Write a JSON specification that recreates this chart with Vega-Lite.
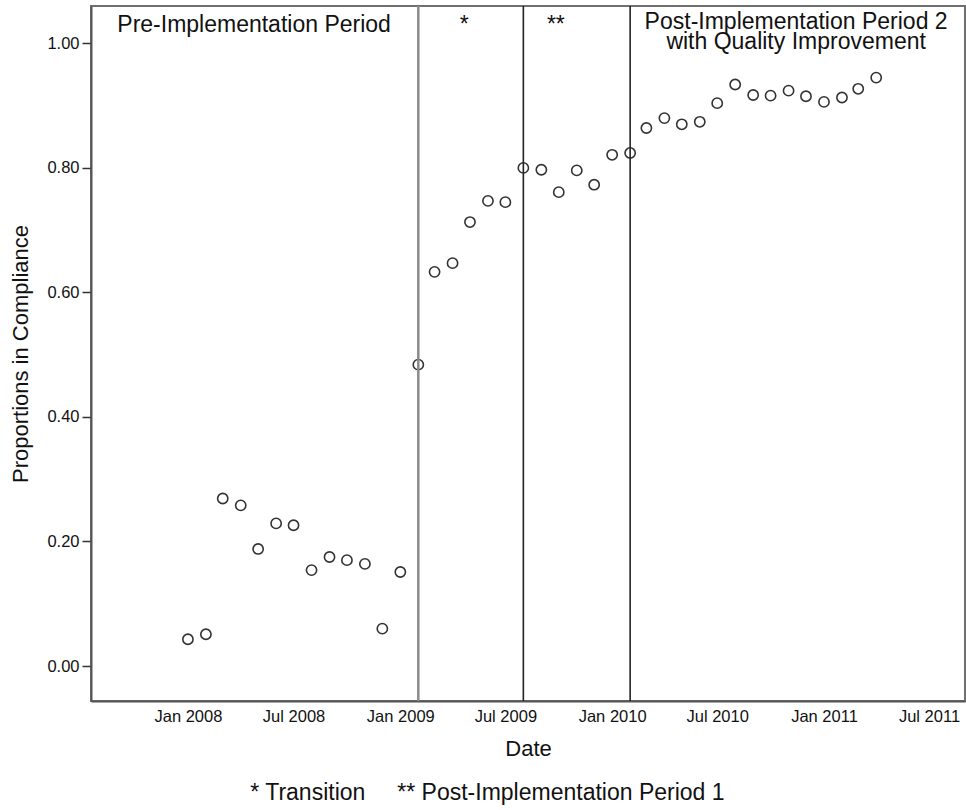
{
  "$schema": "https://vega.github.io/schema/vega-lite/v6.json",
  "width": 874,
  "height": 695,
  "autosize": {"type": "none"},
  "padding": {"left": 91, "top": 6, "right": 1, "bottom": 109},
  "background": "white",
  "config": {
    "font": "Liberation Sans",
    "view": {"stroke": "#707070", "strokeWidth": 2},
    "axisX": {
      "ticks": false,
      "grid": false,
      "domainColor": "#555",
      "domainWidth": 2,
      "labelFontSize": 16.5,
      "labelColor": "#111",
      "labelPadding": 7,
      "labelFlush": false,
      "labelOverlap": false,
      "titleFontSize": 22,
      "titleFontWeight": "normal",
      "titleColor": "#111",
      "titlePadding": 14
    },
    "axisY": {
      "grid": false,
      "domainColor": "#555",
      "domainWidth": 2,
      "tickColor": "#333",
      "tickWidth": 1.5,
      "tickSize": 9,
      "labelFontSize": 16.5,
      "labelColor": "#111",
      "labelPadding": 3,
      "titleFontSize": 22,
      "titleFontWeight": "normal",
      "titleColor": "#111",
      "titlePadding": 14
    }
  },
  "title": {
    "text": "* Transition\u00a0\u00a0\u00a0\u00a0\u00a0** Post-Implementation Period 1",
    "orient": "bottom",
    "anchor": "middle",
    "frame": "bounds",
    "fontSize": 23,
    "fontWeight": "normal",
    "color": "#111",
    "offset": 22
  },
  "datasets": {
    "obs": [
      {"date": "2008-01-01", "value": 0.043},
      {"date": "2008-02-01", "value": 0.051},
      {"date": "2008-03-01", "value": 0.269},
      {"date": "2008-04-01", "value": 0.258},
      {"date": "2008-05-01", "value": 0.188},
      {"date": "2008-06-01", "value": 0.229},
      {"date": "2008-07-01", "value": 0.226},
      {"date": "2008-08-01", "value": 0.154},
      {"date": "2008-09-01", "value": 0.175},
      {"date": "2008-10-01", "value": 0.170},
      {"date": "2008-11-01", "value": 0.164},
      {"date": "2008-12-01", "value": 0.060},
      {"date": "2009-01-01", "value": 0.151},
      {"date": "2009-02-01", "value": 0.484},
      {"date": "2009-03-01", "value": 0.633},
      {"date": "2009-04-01", "value": 0.647},
      {"date": "2009-05-01", "value": 0.713},
      {"date": "2009-06-01", "value": 0.747},
      {"date": "2009-07-01", "value": 0.745},
      {"date": "2009-08-01", "value": 0.800},
      {"date": "2009-09-01", "value": 0.797},
      {"date": "2009-10-01", "value": 0.761},
      {"date": "2009-11-01", "value": 0.796},
      {"date": "2009-12-01", "value": 0.773},
      {"date": "2010-01-01", "value": 0.821},
      {"date": "2010-02-01", "value": 0.824},
      {"date": "2010-03-01", "value": 0.864},
      {"date": "2010-04-01", "value": 0.880},
      {"date": "2010-05-01", "value": 0.870},
      {"date": "2010-06-01", "value": 0.874},
      {"date": "2010-07-01", "value": 0.904},
      {"date": "2010-08-01", "value": 0.934},
      {"date": "2010-09-01", "value": 0.917},
      {"date": "2010-10-01", "value": 0.916},
      {"date": "2010-11-01", "value": 0.924},
      {"date": "2010-12-01", "value": 0.915},
      {"date": "2011-01-01", "value": 0.906},
      {"date": "2011-02-01", "value": 0.913},
      {"date": "2011-03-01", "value": 0.927},
      {"date": "2011-04-01", "value": 0.945}
    ],
    "boundaries": [
      {"date": "2009-02-01", "boundary": "start of transition"},
      {"date": "2009-08-01", "boundary": "start of post-implementation period 1"},
      {"date": "2010-02-01", "boundary": "start of post-implementation period 2"}
    ],
    "periods": [
      {"date": "2008-04-24", "value": 1.018, "label": "Pre-Implementation Period"},
      {"date": "2009-04-21", "value": 1.018, "label": "*"},
      {"date": "2009-09-26", "value": 1.018, "label": "**"},
      {"date": "2010-11-14", "value": 1.023, "label": "Post-Implementation Period 2\nwith Quality Improvement"}
    ]
  },
  "encoding": {
    "x": {
      "field": "date", "type": "temporal", "title": "Date",
      "scale": {"type": "utc", "domain": [{"year": 2007, "month": 7, "date": 18, "utc": true}, {"year": 2011, "month": 9, "date": 1, "utc": true}]},
      "axis": {
        "values": [
          {"year": 2008, "month": 1, "date": 1, "utc": true},
          {"year": 2008, "month": 7, "date": 1, "utc": true},
          {"year": 2009, "month": 1, "date": 1, "utc": true},
          {"year": 2009, "month": 7, "date": 1, "utc": true},
          {"year": 2010, "month": 1, "date": 1, "utc": true},
          {"year": 2010, "month": 7, "date": 1, "utc": true},
          {"year": 2011, "month": 1, "date": 1, "utc": true},
          {"year": 2011, "month": 7, "date": 1, "utc": true}
        ],
        "labelExpr": "utcFormat(datum.value, '%b %Y')"
      }
    }
  },
  "layer": [
    {
      "data": {"name": "obs"},
      "mark": {"type": "point", "shape": "circle", "filled": false, "stroke": "#333", "strokeWidth": 1.6, "size": 105, "opacity": 1},
      "encoding": {
        "y": {
          "field": "value", "type": "quantitative", "title": "Proportions in Compliance",
          "scale": {"domain": [-0.0562, 1.06], "nice": false, "zero": false},
          "axis": {
            "values": [0, 0.2, 0.4, 0.6, 0.8, 1.0],
            "format": ".2f"
          }
        }
      }
    },
    {
      "data": {"name": "boundaries"},
      "transform": [{"filter": "datum.boundary == 'start of transition'"}],
      "mark": {"type": "rule", "color": "#8a8a8a", "strokeWidth": 2.5}
    },
    {
      "data": {"name": "boundaries"},
      "transform": [{"filter": "datum.boundary != 'start of transition'"}],
      "mark": {"type": "rule", "color": "#222", "strokeWidth": 1.6}
    },
    {
      "data": {"name": "periods"},
      "mark": {"type": "text", "align": "center", "baseline": "alphabetic", "fontSize": 23, "color": "#111", "lineBreak": "\n", "lineHeight": 20},
      "encoding": {
        "y": {
          "field": "value", "type": "quantitative", "title": "Proportions in Compliance",
          "scale": {"domain": [-0.0562, 1.06], "nice": false, "zero": false},
          "axis": {
            "values": [0, 0.2, 0.4, 0.6, 0.8, 1.0],
            "format": ".2f"
          }
        },
        "text": {"field": "label", "type": "nominal"}
      }
    }
  ]
}
